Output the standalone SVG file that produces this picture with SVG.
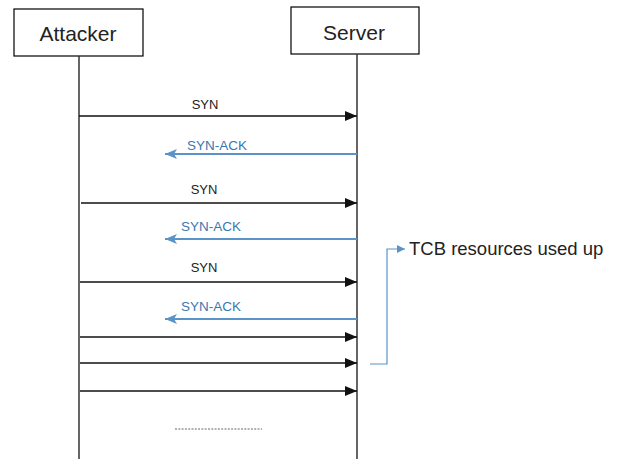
<svg xmlns="http://www.w3.org/2000/svg" width="617" height="459" viewBox="0 0 617 459">
<style>
.box{fill:#fff;stroke:#000;stroke-width:1.2}
.life{stroke:#333;stroke-width:1.5;fill:none}
.syn{stroke:#111;stroke-width:1.5;fill:none;marker-end:url(#ah)}
.ack{stroke:#5b93c8;stroke-width:2.2;fill:none;marker-end:url(#ab)}
.title{font-family:"Liberation Sans",Arial,sans-serif;font-size:21px;fill:#222;text-anchor:middle}
.lbl{font-family:"Liberation Sans",Arial,sans-serif;font-size:13px;fill:#222;text-anchor:middle}
.lblb{font-family:"Liberation Sans",Arial,sans-serif;font-size:13.5px;fill:#3a78b0;text-anchor:middle}
.note{font-family:"Liberation Sans",Arial,sans-serif;font-size:18.5px;fill:#222}
</style>
<defs>
<marker id="ah" markerWidth="12" markerHeight="10" refX="12" refY="5" orient="auto" markerUnits="userSpaceOnUse">
<path d="M0,0 L12,5 L0,10 Z" fill="#111"/>
</marker>
<marker id="ab" markerWidth="12" markerHeight="10" refX="12" refY="5" orient="auto" markerUnits="userSpaceOnUse">
<path d="M0,0 L12,5 L0,10 L3,5 Z" fill="#5b93c8"/>
</marker>
<marker id="as" markerWidth="8" markerHeight="8" refX="8" refY="4" orient="auto" markerUnits="userSpaceOnUse">
<path d="M0,0 L8,4 L0,8 Z" fill="#5b93c8"/>
</marker>
</defs>
<rect width="617" height="459" fill="#fff"/>
<g id="attacker">
<rect class="box" x="14" y="9" width="129" height="47"/>
<text class="title" x="78" y="41">Attacker</text>
</g>
<g id="server">
<rect class="box" x="291" y="7" width="128" height="47"/>
<text class="title" x="354" y="40">Server</text>
</g>
<g id="connectors">
<line class="life" x1="79" y1="56" x2="79" y2="459"/>
<line class="life" x1="357" y1="54" x2="357" y2="459"/>
<line class="syn" x1="79" y1="116" x2="357" y2="116"/>
<line class="ack" x1="357" y1="154" x2="165" y2="154"/>
<line class="syn" x1="81" y1="203" x2="357" y2="203"/>
<line class="ack" x1="357" y1="239" x2="165" y2="239"/>
<line class="syn" x1="80" y1="282" x2="357" y2="282"/>
<line class="ack" x1="357" y1="319" x2="165" y2="319"/>
<line class="syn" x1="80" y1="337" x2="357" y2="337"/>
<line class="syn" x1="80" y1="363" x2="357" y2="363"/>
<line class="syn" x1="80" y1="391" x2="357" y2="391"/>
<line x1="175" y1="429" x2="262" y2="429" stroke="#666" stroke-width="1" stroke-dasharray="2,1.3"/>
<polyline points="370,364 387,364 387,249 405,249" fill="none" stroke="#5b93c8" stroke-width="1.2" marker-end="url(#as)"/>
</g>
<g id="labels">
<text class="lbl" x="205" y="109">SYN</text>
<text class="lblb" x="217" y="150">SYN-ACK</text>
<text class="lbl" x="204" y="194">SYN</text>
<text class="lblb" x="211" y="231">SYN-ACK</text>
<text class="lbl" x="204" y="272">SYN</text>
<text class="lblb" x="211" y="311">SYN-ACK</text>
<text class="note" x="409" y="255">TCB resources used up</text>
</g>
</svg>
